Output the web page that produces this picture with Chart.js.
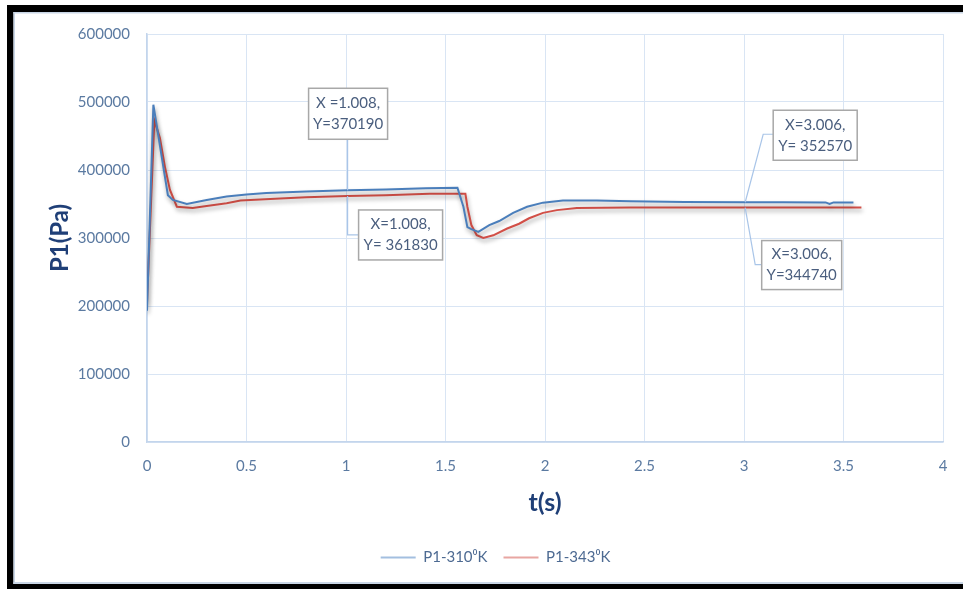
<!DOCTYPE html>
<html>
<head>
<meta charset="utf-8">
<script src="https://cdn.jsdelivr.net/npm/chart.js@4"></script>
<style>
  html, body { margin: 0; padding: 0; background: #ffffff; }
  #wrap { position: relative; width: 963px; height: 589px; }
</style>
</head>
<body>
<div id="wrap"><canvas id="c" width="963" height="589"></canvas></div>
<script>
// ---- data ----
const seriesNames = ['P1-310\u2070K', 'P1-343\u2070K'];

const time310 = [0, 0.032, 0.105, 0.13, 0.2, 0.3, 0.4, 0.5, 0.6, 0.8, 1.008, 1.2, 1.4, 1.56, 1.59, 1.61, 1.63, 1.665, 1.72, 1.77, 1.84, 1.91, 1.99, 2.09, 2.26, 2.43, 2.7, 3.006, 3.2, 3.41, 3.43, 3.45, 3.55];
const p310    = [193000, 496000, 363000, 356000, 350000, 356000, 361000, 364000, 366000, 368500, 370190, 371500, 373000, 374000, 346000, 316000, 313000, 309000, 319000, 325000, 337000, 346000, 352000, 355000, 355000, 354000, 353000, 352570, 352500, 352300, 350000, 352300, 352300];

const time343 = [0, 0.037, 0.065, 0.09, 0.115, 0.15, 0.23, 0.3, 0.4, 0.47, 0.67, 0.8, 1.008, 1.2, 1.42, 1.6, 1.61, 1.63, 1.657, 1.69, 1.74, 1.81, 1.87, 1.92, 1.99, 2.06, 2.16, 2.43, 2.8, 3.006, 3.3, 3.59];
const p343    = [205000, 473000, 447000, 405000, 371000, 346000, 344000, 347000, 351000, 355000, 358000, 360000, 361830, 363000, 365000, 365000, 346000, 319000, 304000, 300000, 304000, 314000, 321000, 329000, 337000, 341000, 344000, 345000, 345000, 344740, 345000, 345000];

const xTickLabels = ['0', '0.5', '1', '1.5', '2', '2.5', '3', '3.5', '4'];
const yTickLabels = ['0', '100000', '200000', '300000', '400000', '500000', '600000'];

// data-label callouts
const calloutX = [1.008, 1.008, 3.006, 3.006];
const calloutY = [370190, 361830, 352570, 344740];
const calloutText = [['X =1.008,', 'Y=370190'], ['X=1.008,', 'Y= 361830'], ['X=3.006,', 'Y= 352570'], ['X=3.006,', 'Y=344740']];

// ---- styling ----
const FONT = 'Lato, "Open Sans", "DejaVu Sans", sans-serif';
const tickColor = '#5b7aa1';
const titleColor = '#1f3f77';
const gridColor = '#d9e5f4';
const lineColors = ['#4a7ebb', '#d24f47'];
const legendColors = ['#a3bfe0', '#e8a6a2'];

function toPoints(xs, ys) { return xs.map((x, i) => ({ x: x, y: ys[i] })); }

const framePlugin = {
  id: 'frame',
  beforeDraw(chart) {
    const ctx = chart.ctx;
    ctx.save();
    ctx.fillStyle = '#ffffff';
    ctx.fillRect(0, 0, chart.width, chart.height);
    ctx.fillStyle = '#000000';
    ctx.fillRect(7, 5, chart.width - 7, 7);     // top
    ctx.fillRect(7, 5, 6.5, chart.height - 5);  // left
    ctx.fillRect(7, 584, chart.width - 7, 5);   // bottom
    ctx.fillStyle = '#c9d6e6';
    ctx.fillRect(13.5, 12, chart.width - 13.5, 1.5);
    ctx.fillRect(13.5, 12, 1.5, 572);
    ctx.fillRect(13.5, 582, chart.width - 13.5, 2);
    ctx.restore();
  }
};

const shadowPlugin = {
  id: 'lineShadow',
  beforeDatasetDraw(chart) {
    const ctx = chart.ctx;
    ctx.save();
    ctx.shadowColor = 'rgba(0,0,0,0.35)';
    ctx.shadowBlur = 4;
    ctx.shadowOffsetX = 1;
    ctx.shadowOffsetY = 3;
  },
  afterDatasetDraw(chart) {
    chart.ctx.restore();
  }
};

// box placement relative to the labelled point (pixels)
const calloutLayout = [
  { dx: -39, dy: -102, w: 79, h: 51, leader: 'up' },
  { dx: 11, dy: 14, w: 84, h: 50, leader: 'downRight' },
  { dx: 28, dy: -92, w: 84, h: 50, leaderBend: [18, -68] },
  { dx: 16.5, dy: 33, w: 80, h: 49, leaderBend: [10, 57] }
];

const calloutPlugin = {
  id: 'callouts',
  afterDatasetsDraw(chart) {
    const ctx = chart.ctx;
    const xs = chart.scales.x, ys = chart.scales.y;
    ctx.save();
    for (let i = 0; i < calloutX.length; i++) {
      const px = xs.getPixelForValue(calloutX[i]);
      const py = ys.getPixelForValue(calloutY[i]);
      const L = calloutLayout[i];
      const bx = px + L.dx, by = py + L.dy;
      ctx.strokeStyle = '#a9c5e8';
      ctx.lineWidth = 1.2;
      ctx.beginPath();
      if (L.leader === 'up') {
        ctx.moveTo(px, py);
        ctx.lineTo(px, by + L.h);
      } else if (L.leader === 'downRight') {
        ctx.moveTo(px, py);
        ctx.lineTo(px, by + L.h / 2);
        ctx.lineTo(bx, by + L.h / 2);
      } else {
        ctx.moveTo(px, py);
        ctx.lineTo(px + L.leaderBend[0], py + L.leaderBend[1]);
        ctx.lineTo(bx, py + L.leaderBend[1]);
      }
      ctx.stroke();
      ctx.fillStyle = '#ffffff';
      ctx.fillRect(bx, by, L.w, L.h);
      ctx.strokeStyle = '#a8a8a8';
      ctx.lineWidth = 1.5;
      ctx.strokeRect(bx, by, L.w, L.h);
      ctx.fillStyle = '#4a5e7e';
      ctx.font = '15px ' + FONT;
      ctx.textAlign = 'center';
      ctx.textBaseline = 'middle';
      const lines = calloutText[i];
      ctx.fillText(lines[0], bx + L.w / 2, by + L.h / 2 - 10.5);
      ctx.fillText(lines[1], bx + L.w / 2, by + L.h / 2 + 10.5);
    }
    ctx.restore();
  }
};

new Chart(document.getElementById('c'), {
  type: 'line',
  data: {
    datasets: [
      { label: seriesNames[0], data: toPoints(time310, p310), borderColor: lineColors[0], backgroundColor: lineColors[0], borderWidth: 2, pointRadius: 0, tension: 0, fill: false },
      { label: seriesNames[1], data: toPoints(time343, p343), borderColor: lineColors[1], backgroundColor: lineColors[1], borderWidth: 2, pointRadius: 0, tension: 0, fill: false }
    ]
  },
  options: {
    responsive: false,
    animation: false,
    devicePixelRatio: 1,
    layout: { padding: { left: 48, right: 20, top: 34, bottom: 14 } },
    plugins: {
      tooltip: { enabled: false },
      legend: {
        position: 'bottom',
        labels: {
          usePointStyle: true,
          pointStyle: 'line',
          pointStyleWidth: 35,
          padding: 16,
          color: '#4d6a92',
          font: { family: FONT, size: 15 },
          generateLabels(chart) {
            const items = Chart.defaults.plugins.legend.labels.generateLabels(chart);
            items.forEach((it, i) => { it.strokeStyle = legendColors[i]; it.fillStyle = legendColors[i]; it.lineWidth = 2; });
            return items;
          }
        }
      }
    },
    scales: {
      x: {
        type: 'linear',
        min: 0, max: 4,
        ticks: {
          stepSize: 0.5,
          padding: 15,
          color: tickColor,
          font: { family: FONT, size: 15 },
          callback: (v) => xTickLabels[Math.round(v / 0.5)]
        },
        grid: { color: gridColor, drawTicks: false, lineWidth: 1 },
        border: { color: '#c3d5ec', width: 1.5 },
        title: { display: true, text: 't(s)', color: titleColor, font: { family: FONT, size: 25, weight: 'bold' }, padding: { top: 0, bottom: 16 } },
        afterFit(scale) { scale.height = 92; }
      },
      y: {
        min: 0, max: 600000,
        ticks: {
          stepSize: 100000,
          padding: 17,
          color: tickColor,
          font: { family: FONT, size: 15 },
          callback: (v) => yTickLabels[Math.round(v / 100000)]
        },
        grid: { color: gridColor, drawTicks: false, lineWidth: 1 },
        border: { color: '#c3d5ec', width: 1.5 },
        title: { display: true, text: 'P1(Pa)', color: titleColor, font: { family: FONT, size: 24, weight: 'bold', lineHeight: 1 }, padding: { top: 0, bottom: 0 } },
        afterFit(scale) { scale.width = 99; }
      }
    }
  },
  plugins: [framePlugin, shadowPlugin, calloutPlugin]
});
</script>
</body>
</html>
